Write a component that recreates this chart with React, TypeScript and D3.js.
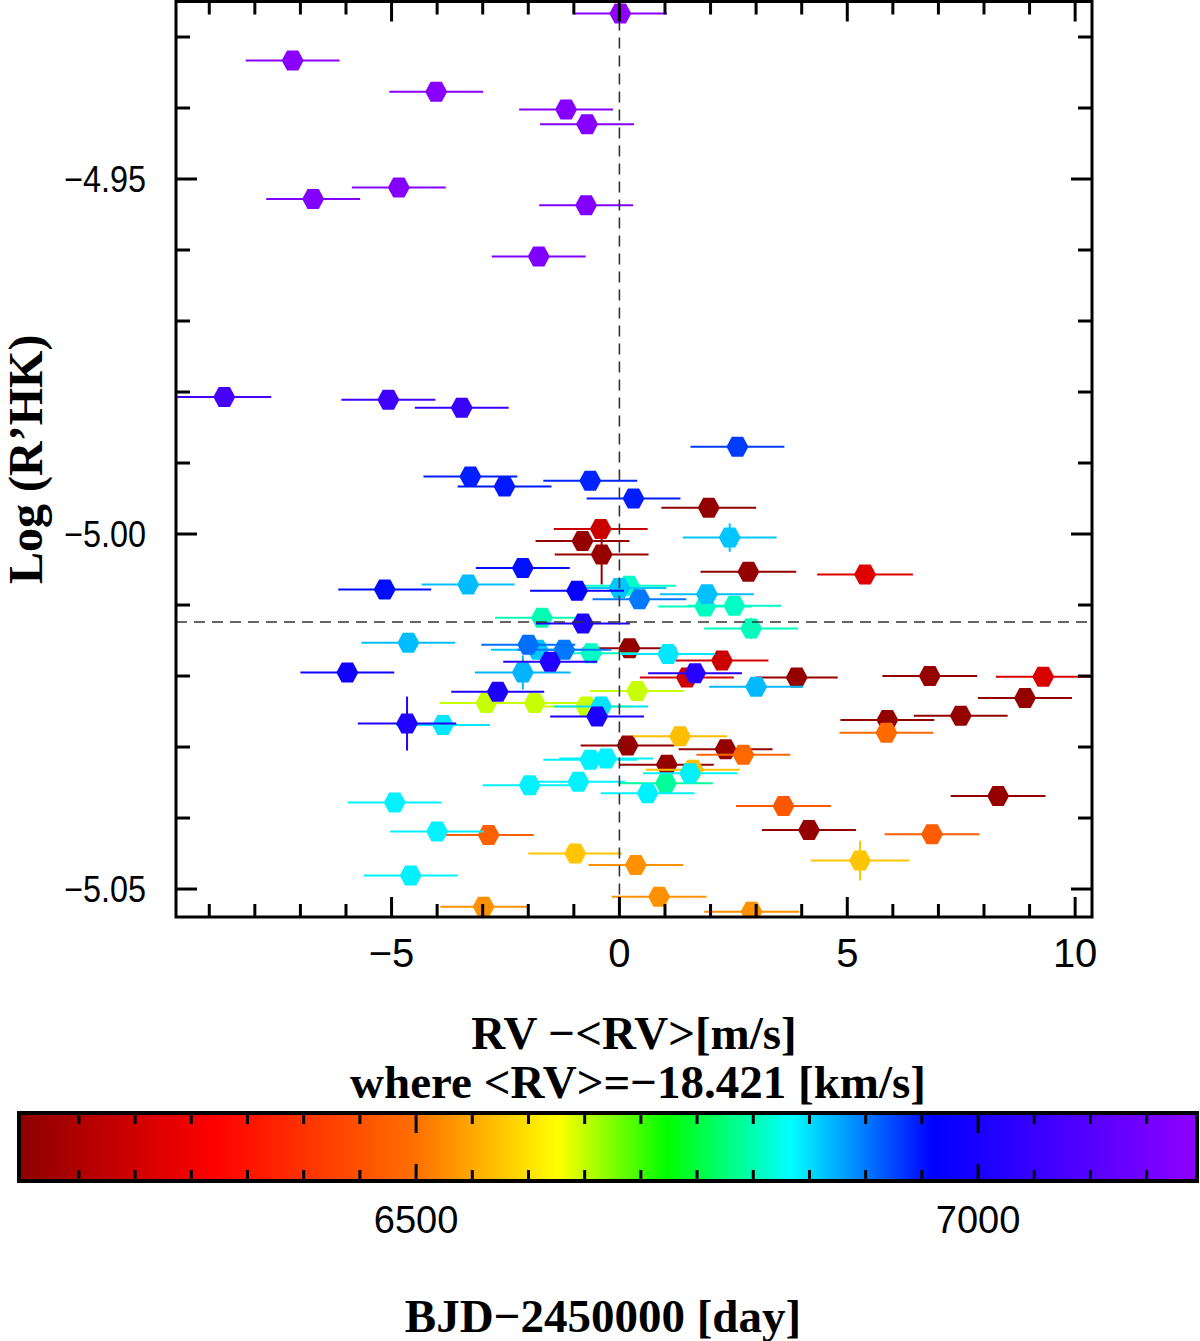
import * as d3 from 'd3';
import React, { useEffect, useRef } from 'react';

// RV - <RV> [m/s]
const rvValues = [
  0.02, -7.17, -4.02, -1.17, -0.71, -4.84, -6.72, -0.73, -1.77, -8.67,
  -5.07, -3.46, 2.59, -3.27, -2.52, -0.64, 0.31, 1.96, -0.41, -0.81,
  -0.39, 2.42, 2.83, 5.39, -2.12, -3.32, -5.15, -0.93, 0.0, 0.21,
  0.44, 1.92, 1.88, 2.52, -1.7, -0.8, 2.89, -4.63, -2.0, -1.79,
  -1.21, -0.62, 0.22, 1.07, 2.25, -1.52, -5.97, -2.12, 1.48, 1.66,
  3.89, 3.0, 6.81, 9.3, 8.9, 7.49, 5.88, 5.86, -2.67, 0.39,
  -2.92, -1.86, -0.73, -0.4, -0.49, -4.66, -3.87, 1.33, 0.18, 2.33,
  2.72, -0.64, -0.29, 1.04, 1.55, 1.61, 1.02, 0.62, -1.97, -0.9,
  -4.93, 3.6, 4.16, 8.31, -4.0, -2.87, 6.86, -0.97, 5.28, 0.36,
  -4.58, 0.87, -2.98, 2.9,
];

// log R'HK
const rhkValues = [
  -4.9267, -4.9333, -4.9377, -4.9402, -4.9423, -4.9512, -4.9528, -4.9537, -4.9609, -4.9807,
  -4.9811, -4.9822, -4.9877, -4.9919, -4.9933, -4.9925, -4.995, -4.9963, -4.9993, -5.001,
  -5.0029, -5.0005, -5.0053, -5.0057, -5.0048, -5.0071, -5.0078, -5.008, -5.0076, -5.0073,
  -5.0092, -5.0085, -5.0102, -5.0101, -5.0118, -5.0126, -5.0133, -5.0153, -5.0156, -5.0163,
  -5.0163, -5.0168, -5.0161, -5.0169, -5.0178, -5.018, -5.0195, -5.0195, -5.0202, -5.0196,
  -5.0202, -5.0215, -5.02, -5.0201, -5.0231, -5.0256, -5.0262, -5.028, -5.0222, -5.0221,
  -5.0238, -5.0238, -5.0243, -5.0243, -5.0257, -5.0267, -5.0269, -5.0285, -5.0298, -5.0303,
  -5.0311, -5.0318, -5.0316, -5.0325, -5.0337, -5.0332, -5.0351, -5.0365, -5.0354, -5.0349,
  -5.0378, -5.0383, -5.0417, -5.0369, -5.0419, -5.0424, -5.0423, -5.045, -5.046, -5.0466,
  -5.0481, -5.0511, -5.0525, -5.0532,
];

const rvErrors = [
  1.02, 1.03, 1.03, 1.03, 1.03, 1.03, 1.03, 1.03, 1.03, 1.03,
  1.03, 1.03, 1.03, 1.03, 1.03, 1.03, 1.03, 1.04, 1.03, 1.03,
  1.03, 1.03, 1.05, 1.05, 1.03, 1.02, 1.02, 1.03, 1.03, 1.03,
  1.03, 1.03, 1.03, 1.03, 1.03, 1.03, 1.03, 1.03, 1.03, 1.03,
  1.03, 1.03, 1.03, 1.03, 1.02, 1.03, 1.03, 1.05, 1.03, 1.03,
  0.9, 1.03, 1.04, 1.04, 1.03, 1.03, 1.03, 1.03, 1.02, 1.03,
  1.03, 1.03, 1.03, 1.03, 1.03, 1.08, 1.03, 1.03, 1.03, 1.03,
  1.03, 1.03, 1.03, 1.03, 1.03, 1.03, 1.03, 1.03, 1.03, 1.03,
  1.03, 1.04, 1.03, 1.04, 1.03, 0.99, 1.04, 1.03, 1.08, 1.04,
  1.03, 1.04, 0.95, 1.04,
];

const rhkErrors = [
  0.001, 0.001, 0.001, 0.001, 0.001, 0.001, 0.001, 0.001, 0.001, 0.001,
  0.001, 0.001, 0.001, 0.001, 0.001, 0.001, 0.001, 0.001, 0.001, 0.001,
  0.0042, 0.002, 0.001, 0.001, 0.001, 0.001, 0.001, 0.001, 0.001, 0.001,
  0.001, 0.001, 0.001, 0.001, 0.001, 0.001, 0.0015, 0.001, 0.001, 0.001,
  0.001, 0.001, 0.001, 0.001, 0.001, 0.001, 0.001, 0.0024, 0.001, 0.001,
  0.001, 0.001, 0.001, 0.001, 0.001, 0.001, 0.001, 0.001, 0.001, 0.001,
  0.001, 0.001, 0.001, 0.001, 0.001, 0.0038, 0.001, 0.001, 0.001, 0.001,
  0.001, 0.001, 0.001, 0.001, 0.001, 0.001, 0.001, 0.001, 0.001, 0.001,
  0.001, 0.001, 0.001, 0.001, 0.001, 0.001, 0.001, 0.001, 0.0028, 0.001,
  0.001, 0.001, 0.001, 0.001,
];

// BJD - 2450000 [day]
const bjdValues = [
  7190, 7186, 7183, 7180, 7178, 7176, 7174, 7172, 7170, 7075,
  7065, 7055, 6930, 6945, 6948, 6942, 6946, 6158, 6240, 6160,
  6165, 6862, 6160, 6272, 6952, 6866, 6954, 6968, 6862, 6810,
  6900, 6864, 6806, 6808, 6800, 7010, 6805, 6866, 6905, 6862,
  6900, 6808, 6160, 6845, 6245, 7015, 6990, 6870, 6250, 7025,
  6160, 6868, 6160, 6262, 6160, 6160, 6155, 6490, 7010, 6647,
  6647, 6647, 6647, 6848, 7005, 7015, 6845, 6570, 6160, 6160,
  6485, 6840, 6840, 6160, 6840, 6570, 6790, 6840, 6840, 6840,
  6840, 6460, 6160, 6160, 6840, 6475, 6470, 6575, 6575, 6528,
  6840, 6528, 6528, 6528,
];

const xTickLabels = [-5, 0, 5, 10];
const yTickLabels = [-4.95, -5.0, -5.05];
const cbTickLabels = [6500, 7000];
const meanRhk = -5.0124;

// colour table, day -> colour
const colorDays = [6146.7, 6320.2, 6500, 6626.2, 6723.2, 6833.5, 6959.9, 7194.8];
const colorHex = ['#8c0000', '#ff0000', '#ff7000', '#ffff00', '#00ff00', '#00ffff', '#0000ff', '#8f00ff'];

const fmt = (v: number, d: number) => (v < 0 ? '\u2212' : '') + Math.abs(v).toFixed(d);

const App = () => {
  const ref = useRef<SVGSVGElement | null>(null);

  useEffect(() => {
    if (!ref.current) return;
    const svg = d3.select(ref.current);
    svg.selectAll('*').remove();

    const left = 176, right = 1092, top = 1.5, bottom = 917;
    const sans = "'Liberation Sans', Arial, Helvetica, sans-serif";
    const serif = "'Liberation Serif', 'Times New Roman', serif";

    const x = d3.scaleLinear().domain([-9.73, 10.37]).range([left, right]);
    const y = d3.scaleLinear().domain([-5.05394, -4.925]).range([bottom, top]);
    const color = d3
      .scaleLinear<string>()
      .domain(colorDays)
      .range(colorHex)
      .interpolate(d3.interpolateRgb)
      .clamp(true);

    const defs = svg.append('defs');
    defs.append('clipPath').attr('id', 'plot-clip')
      .append('rect').attr('x', left).attr('y', top).attr('width', right - left).attr('height', bottom - top);

    // points, drawn in time order
    const n = rvValues.length;
    const order = d3.range(n).sort((a, b) => bjdValues[a] - bjdValues[b]);
    const hex = [[11, 0], [5.6, 10], [-5.6, 10], [-11, 0], [-5.6, -10], [5.6, -10]];
    const hexPath = 'M' + hex.map((p) => p.join(',')).join('L') + 'Z';

    const pts = svg.append('g').attr('clip-path', 'url(#plot-clip)');
    order.forEach((i) => {
      const c = color(bjdValues[i]);
      const cx = x(rvValues[i]);
      const cy = y(rhkValues[i]);
      pts.append('line')
        .attr('x1', x(rvValues[i] - rvErrors[i])).attr('x2', x(rvValues[i] + rvErrors[i]))
        .attr('y1', cy).attr('y2', cy)
        .attr('stroke', c).attr('stroke-width', 2);
      pts.append('line')
        .attr('x1', cx).attr('x2', cx)
        .attr('y1', y(rhkValues[i] - rhkErrors[i])).attr('y2', y(rhkValues[i] + rhkErrors[i]))
        .attr('stroke', c).attr('stroke-width', 2);
      pts.append('path')
        .attr('d', hexPath)
        .attr('transform', `translate(${cx},${cy})`)
        .attr('fill', c);
    });

    // dashed reference lines
    svg.append('line')
      .attr('x1', x(0)).attr('x2', x(0)).attr('y1', top).attr('y2', bottom)
      .attr('stroke', '#333').attr('stroke-width', 1.6).attr('stroke-dasharray', '11,7');
    svg.append('line')
      .attr('x1', left).attr('x2', right).attr('y1', y(meanRhk)).attr('y2', y(meanRhk))
      .attr('stroke', '#333').attr('stroke-width', 1.6).attr('stroke-dasharray', '11,7');

    // ticks
    const axes = svg.append('g').attr('stroke', '#000').attr('stroke-width', 3);
    d3.range(-9, 11).forEach((v) => {
      const len = v % 5 === 0 ? 20 : 13;
      axes.append('line').attr('x1', x(v)).attr('x2', x(v)).attr('y1', bottom).attr('y2', bottom - len);
      axes.append('line').attr('x1', x(v)).attr('x2', x(v)).attr('y1', top).attr('y2', top + len);
    });
    d3.range(0, 13).forEach((k) => {
      const v = -5.05 + k * 0.01;
      const len = k % 5 === 0 ? 21 : 14;
      axes.append('line').attr('x1', left).attr('x2', left + len).attr('y1', y(v)).attr('y2', y(v));
      axes.append('line').attr('x1', right).attr('x2', right - len).attr('y1', y(v)).attr('y2', y(v));
    });
    svg.append('rect')
      .attr('x', left).attr('y', top).attr('width', right - left).attr('height', bottom - top)
      .attr('fill', 'none').attr('stroke', '#000').attr('stroke-width', 3);

    // tick labels
    svg.append('g').selectAll('text').data(xTickLabels).enter().append('text')
      .attr('x', (d) => x(d)).attr('y', 967)
      .attr('text-anchor', 'middle').style('font-family', sans).style('font-size', '40px')
      .text((d) => fmt(d, 0));
    svg.append('g').selectAll('text').data(yTickLabels).enter().append('text')
      .attr('x', 146).attr('y', (d) => y(d) + 13)
      .attr('text-anchor', 'end').style('font-family', sans).style('font-size', '37px')
      .attr('textLength', 82).attr('lengthAdjust', 'spacingAndGlyphs')
      .text((d) => fmt(d, 2));

    // axis titles
    svg.append('text')
      .attr('transform', `translate(42,${(top + bottom) / 2}) rotate(-90)`)
      .attr('text-anchor', 'middle').style('font-family', serif).style('font-weight', 'bold').style('font-size', '48px')
      .text('Log (R\u2019HK)');
    svg.append('text')
      .attr('x', 634).attr('y', 1049)
      .attr('text-anchor', 'middle').style('font-family', serif).style('font-weight', 'bold').style('font-size', '47px')
      .text('RV \u2212<RV>[m/s]');
    svg.append('text')
      .attr('x', 638).attr('y', 1098)
      .attr('text-anchor', 'middle').style('font-family', serif).style('font-weight', 'bold').style('font-size', '47px')
      .text('where <RV>=\u221218.421 [km/s]');

    // colour bar
    const cb = d3.scaleLinear().domain([6146.7, 7194.8]).range([19, 1197]);
    const cbTop = 1113, cbBottom = 1181;
    const grad = defs.append('linearGradient').attr('id', 'cb-grad')
      .attr('x1', '0%').attr('x2', '100%').attr('y1', '0%').attr('y2', '0%');
    colorDays.forEach((d, k) => {
      grad.append('stop')
        .attr('offset', `${((cb(d) - 19) / (1197 - 19)) * 100}%`)
        .attr('stop-color', colorHex[k]);
    });
    svg.append('rect')
      .attr('x', 19).attr('y', cbTop).attr('width', 1197 - 19).attr('height', cbBottom - cbTop)
      .attr('fill', 'url(#cb-grad)');
    const cbAxes = svg.append('g').attr('stroke', '#000').attr('stroke-width', 3);
    d3.range(6200, 7151, 50).forEach((d) => {
      const major = d % 500 === 0;
      cbAxes.append('line').attr('x1', cb(d)).attr('x2', cb(d)).attr('y1', cbTop).attr('y2', cbTop + (major ? 20 : 11));
      cbAxes.append('line').attr('x1', cb(d)).attr('x2', cb(d)).attr('y1', cbBottom).attr('y2', cbBottom - (major ? 17 : 11));
    });
    svg.append('rect')
      .attr('x', 19).attr('y', cbTop).attr('width', 1197 - 19).attr('height', cbBottom - cbTop)
      .attr('fill', 'none').attr('stroke', '#000').attr('stroke-width', 4);
    svg.append('g').selectAll('text').data(cbTickLabels).enter().append('text')
      .attr('x', (d) => cb(d)).attr('y', 1233)
      .attr('text-anchor', 'middle').style('font-family', sans).style('font-size', '38px')
      .text((d) => String(d));
    svg.append('text')
      .attr('x', 603).attr('y', 1332)
      .attr('text-anchor', 'middle').style('font-family', serif).style('font-weight', 'bold').style('font-size', '47px')
      .text('BJD\u22122450000 [day]');
  }, []);

  return (
    <svg
      ref={ref}
      width={1200}
      height={1341}
      style={{ position: 'absolute', left: 0, top: 0, background: '#fff' }}
    />
  );
};

export default App;
